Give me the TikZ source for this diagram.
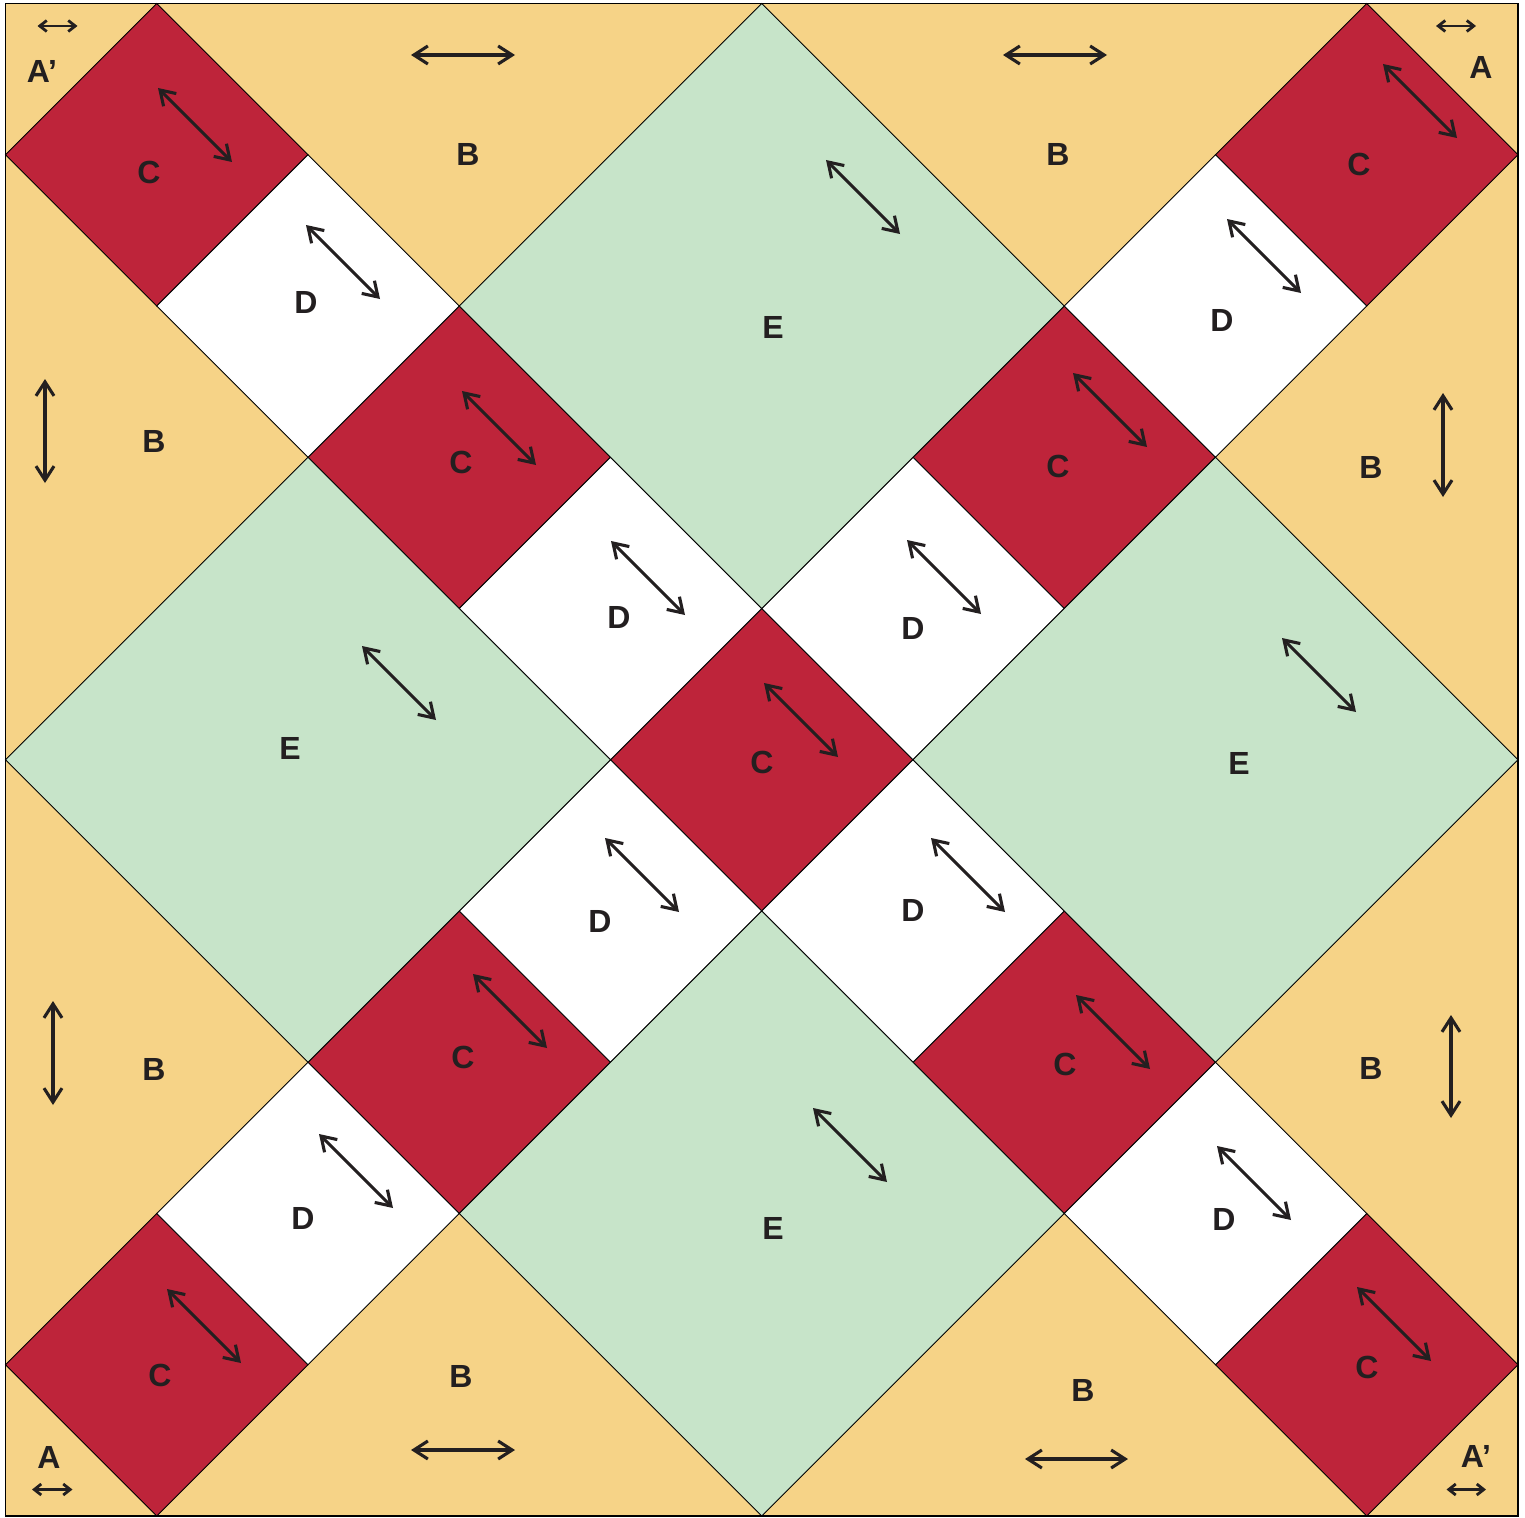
\documentclass[tikz,border=0pt]{standalone}
\usepackage{fontspec}
\setmainfont{Liberation Sans}
\usetikzlibrary{arrows.meta}
\definecolor{qyel}{RGB}{246,211,135}
\definecolor{qred}{RGB}{190,36,58}
\definecolor{qgrn}{RGB}{199,228,201}
\definecolor{qink}{RGB}{35,31,32}
\tikzset{
  lbl/.style={inner sep=0pt, text=qink, font=\bfseries\fontsize{32}{38}\selectfont},
  bigarr/.style={draw=qink, line width=3.1pt, {Straight Barb[length=14pt,width=18pt]}-{Straight Barb[length=14pt,width=18pt]}},
  smallarr/.style={draw=qink, line width=2.8pt, {Straight Barb[length=7pt,width=11pt]}-{Straight Barb[length=7pt,width=11pt]}},
  patch/.style={draw=black, line width=0.9pt, line join=miter},
}
\begin{document}
\begin{tikzpicture}[x=1pt,y=-1pt]
\useasboundingbox (0,0) rectangle (1525,1517);
% background
\fill[qyel] (5.5,3.5) rectangle (1518,1516);
\begin{scope}[xshift=5.5pt, yshift=-3.5pt, x=151.25pt, y=-151.25pt]
  % C squares
  \foreach \cx/\cy in {1/1,3/3,5/5,7/7,9/9,9/1,7/3,3/7,1/9}
    \filldraw[patch, fill=qred] (\cx,\cy-1) -- (\cx+1,\cy) -- (\cx,\cy+1) -- (\cx-1,\cy) -- cycle;
  % D squares
  \foreach \cx/\cy in {2/2,4/4,6/6,8/8,8/2,6/4,4/6,2/8}
    \filldraw[patch, fill=white] (\cx,\cy-1) -- (\cx+1,\cy) -- (\cx,\cy+1) -- (\cx-1,\cy) -- cycle;
  % E squares
  \foreach \cx/\cy in {5/2,2/5,8/5,5/8}
    \filldraw[patch, fill=qgrn] (\cx,\cy-2) -- (\cx+2,\cy) -- (\cx,\cy+2) -- (\cx-2,\cy) -- cycle;
\end{scope}
% outer frame
\draw[black, line width=1.8pt] (5.5,3.5) rectangle (1518,1516);

% labels
\node[lbl] (a1) at (42,71) {A’};
\node[lbl] (a2) at (1481,67) {A};
\node[lbl] (a3) at (49,1457) {A};
\node[lbl] (a4) at (1476,1456) {A’};
\node[lbl] (b1) at (468,154) {B};
\node[lbl] (b2) at (1058,154) {B};
\node[lbl] (b3) at (154,441) {B};
\node[lbl] (b4) at (1371,467) {B};
\node[lbl] (b5) at (154,1069) {B};
\node[lbl] (b6) at (1371,1068) {B};
\node[lbl] (b7) at (461,1376) {B};
\node[lbl] (b8) at (1083,1390) {B};
\node[lbl] (c1) at (149,172) {C};
\node[lbl] (c2) at (1359,164) {C};
\node[lbl] (c3) at (461,462) {C};
\node[lbl] (c4) at (1058,466) {C};
\node[lbl] (c5) at (762,762) {C};
\node[lbl] (c6) at (463,1057) {C};
\node[lbl] (c7) at (1065,1064) {C};
\node[lbl] (c8) at (160,1375) {C};
\node[lbl] (c9) at (1367,1367) {C};
\node[lbl] (d1) at (306,302) {D};
\node[lbl] (d2) at (1222,320) {D};
\node[lbl] (d3) at (619,617) {D};
\node[lbl] (d4) at (913,628) {D};
\node[lbl] (d5) at (600,921) {D};
\node[lbl] (d6) at (913,910) {D};
\node[lbl] (d7) at (303,1218) {D};
\node[lbl] (d8) at (1224,1219) {D};
\node[lbl] (e1) at (773,327) {E};
\node[lbl] (e2) at (290,748) {E};
\node[lbl] (e3) at (1239,763) {E};
\node[lbl] (e4) at (773,1228) {E};

% small corner arrows
\draw[smallarr] (37.5,26) -- (77.5,26);
\draw[smallarr] (1436,26) -- (1476,26);
\draw[smallarr] (32,1489.5) -- (72.5,1489.5);
\draw[smallarr] (1446.5,1489.5) -- (1486,1489.5);
% horizontal arrows
\draw[bigarr] (411,55) -- (515,55);
\draw[bigarr] (1003,55) -- (1107,55);
\draw[bigarr] (411,1450) -- (515,1450);
\draw[bigarr] (1025,1459) -- (1128,1459);
% vertical arrows
\draw[bigarr] (45,379) -- (45,483);
\draw[bigarr] (1443,393) -- (1443,497);
\draw[bigarr] (53,1001) -- (53,1105);
\draw[bigarr] (1451,1015) -- (1451,1118);
% diagonal arrows
\foreach \x/\y in {158/88, 306/225, 462/391, 611/541, 764/683, 826/160, 1383/64, 1227/219, 1073/373, 907/540, 362/646, 1282/638, 605/838, 931/838, 473/974, 1076/995, 813/1108, 319/1134, 1217/1146, 167/1289, 1357/1287}
  \draw[bigarr] (\x,\y) -- (\x+74,\y+74);
\end{tikzpicture}
\end{document}
